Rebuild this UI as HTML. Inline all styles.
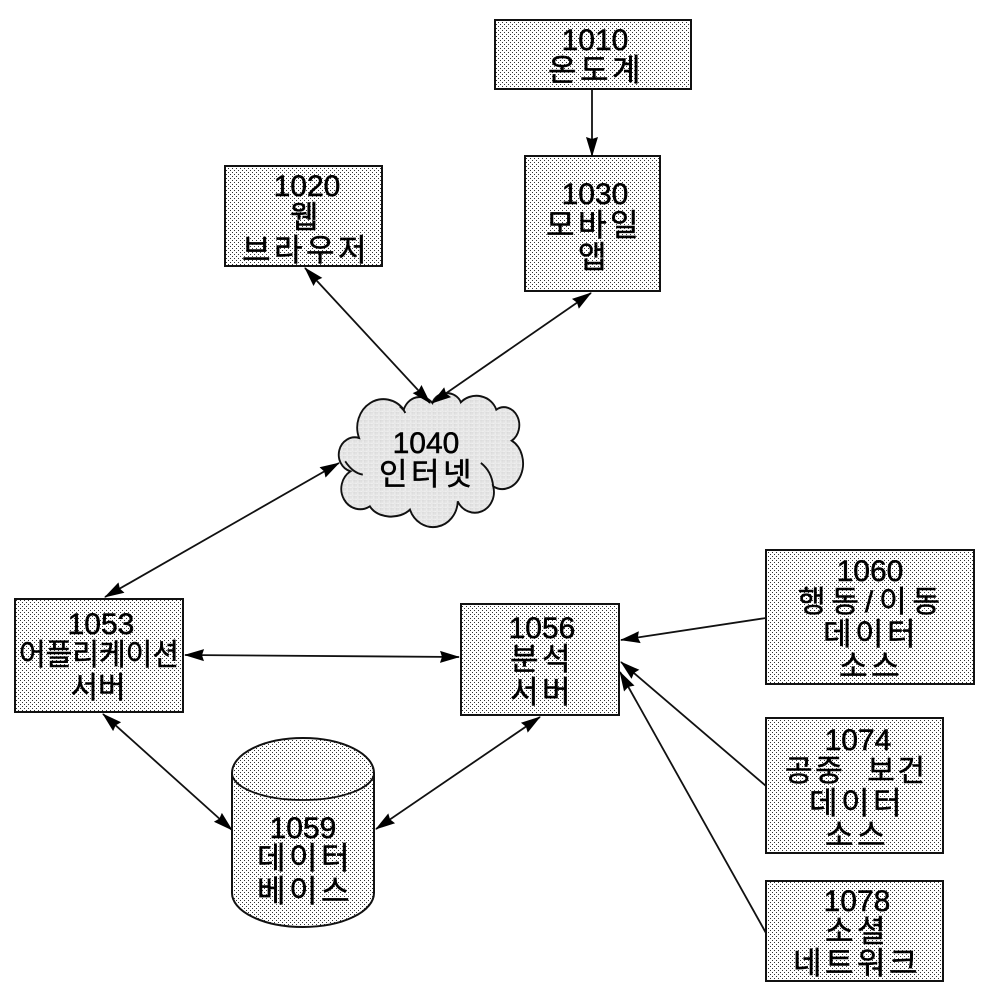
<!DOCTYPE html>
<html lang="ko">
<head>
<meta charset="utf-8">
<style>
html,body{margin:0;padding:0;background:#fff;}
svg{display:block;}
text{font-family:"Liberation Sans","Noto Sans CJK KR","NanumGothic",sans-serif;font-size:30px;fill:#000;text-anchor:middle;stroke:#000;stroke-width:.5px;}
text.k{font-size:31px;letter-spacing:3.5px;}
.s{fill:url(#dots);stroke:#111;stroke-width:2;}
.l{stroke:#111;stroke-width:1.8;fill:none;}
.h{fill:#000;stroke:none;}
</style>
</head>
<body>
<svg width="990" height="1002" viewBox="0 0 990 1002" xmlns="http://www.w3.org/2000/svg">
<defs>
<pattern id="dots" width="4" height="4" patternUnits="userSpaceOnUse">
<rect width="4" height="4" fill="#fff"/>
<rect x="0" y="0" width="1" height="1" fill="#333"/>
<rect x="2" y="2" width="1" height="1" fill="#333"/>
</pattern>
<marker id="a" viewBox="0 0 20 14" refX="19" refY="7" markerWidth="20" markerHeight="14" markerUnits="userSpaceOnUse" orient="auto-start-reverse">
<path class="h" d="M0 1L20 7L0 13L2 7Z"/>
</marker>
</defs>

<rect class="s" x="495" y="20" width="196" height="69"/>
<rect class="s" x="525" y="156" width="135" height="135"/>
<rect class="s" x="225" y="166" width="157" height="100"/>
<rect class="s" x="15" y="599" width="168" height="113"/>
<rect class="s" x="461" y="604" width="158" height="111"/>
<rect class="s" x="766" y="550" width="208" height="134"/>
<rect class="s" x="766" y="718" width="177" height="135"/>
<rect class="s" x="766" y="881" width="177" height="100"/>

<path class="s" d="M232 773A71 35 0 0 1 374 773V893A71 34 0 0 1 232 893Z"/>
<path class="l" d="M232 773A71 27 0 0 0 374 773"/>

<g transform="translate(430,-2) scale(.925,1) translate(-430,0) translate(320,370) scale(.3333)">
<path d="M338 105A48 40 0 0 1 430 103A68 60 0 0 1 545 125A48 52 0 0 1 595 218A48 55 0 0 1 535 355A62 62 0 0 1 420 400A80 80 0 0 1 265 425A75 50 0 0 1 135 415A60 60 0 0 1 72 310A40 40 0 0 1 100 210A85 85 0 0 1 245 125A55 55 0 0 1 338 105Z" fill="url(#dots)" stroke="#111" stroke-width="6"/>
<path d="M495 285Q530 310 535 355M55 280Q80 315 112 320M232 115Q245 125 250 135" fill="none" stroke="#111" stroke-width="6"/>
</g>

<line class="l" x1="592" y1="89" x2="592" y2="156" marker-end="url(#a)"/>
<line class="l" x1="305" y1="268" x2="430" y2="403" marker-start="url(#a)" marker-end="url(#a)"/>
<line class="l" x1="591" y1="293" x2="432" y2="403" marker-start="url(#a)" marker-end="url(#a)"/>
<line class="l" x1="339" y1="463" x2="105" y2="597" marker-start="url(#a)" marker-end="url(#a)"/>
<line class="l" x1="185" y1="655" x2="459" y2="657" marker-start="url(#a)" marker-end="url(#a)"/>
<line class="l" x1="103" y1="714" x2="232" y2="830" marker-start="url(#a)" marker-end="url(#a)"/>
<line class="l" x1="540" y1="717" x2="376" y2="829" marker-start="url(#a)" marker-end="url(#a)"/>
<line class="l" x1="766" y1="618" x2="621" y2="640" marker-end="url(#a)"/>
<line class="l" x1="766" y1="786" x2="621" y2="662" marker-end="url(#a)"/>
<line class="l" x1="766" y1="933" x2="620" y2="672" marker-end="url(#a)"/>

<text x="595" y="50">1010</text>
<text class="k" x="596" y="81">온도계</text>
<text x="595" y="204">1030</text>
<text class="k" x="594" y="236">모바일</text>
<text class="k" x="594" y="268">앱</text>
<text x="307" y="196">1020</text>
<text class="k" x="306" y="228">웹</text>
<text class="k" x="306" y="261">브라우저</text>
<text x="426" y="453">1040</text>
<text class="k" x="427" y="485">인터넷</text>
<text x="101" y="634">1053</text>
<text x="99" y="665" textLength="160" lengthAdjust="spacingAndGlyphs">어플리케이션</text>
<text x="98" y="698">서버</text>
<text x="542" y="638">1056</text>
<text class="k" x="542" y="670">분석</text>
<text class="k" x="542" y="703">서버</text>
<text x="303" y="838">1059</text>
<text class="k" x="305" y="869">데이터</text>
<text class="k" x="305" y="902">베이스</text>
<text x="870" y="581">1060</text>
<text x="869" y="612" textLength="142">행동/이동</text>
<text class="k" x="871" y="645">데이터</text>
<text class="k" x="871" y="677">소스</text>
<text x="858" y="750">1074</text>
<text x="855" y="781" textLength="140" xml:space="preserve">공중  보건</text>
<text class="k" x="857" y="814">데이터</text>
<text class="k" x="857" y="846">소스</text>
<text x="857" y="911">1078</text>
<text class="k" x="857" y="942">소셜</text>
<text class="k" x="857" y="974">네트워크</text>
</svg>
</body>
</html>
